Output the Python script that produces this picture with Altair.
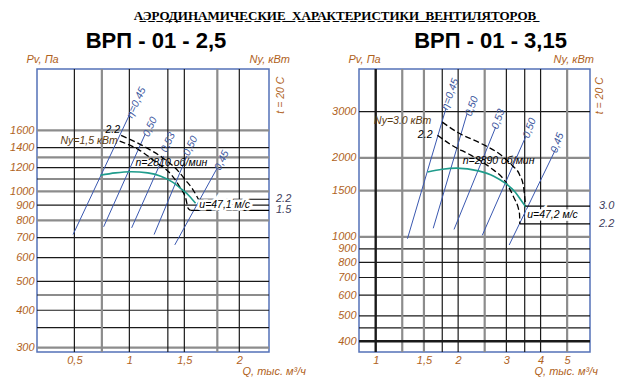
import altair as alt
import pandas as pd

# ---------------- style ----------------
NARROW = "Liberation Sans Narrow, Liberation Sans, Arial, sans-serif"
ORANGE = "#b0621c"
GRID_GRAY = "#8c8c8c"
GRID_BLACK = "#1a1a1a"
BLUE = "#3a58b0"
TEAL = "#1f9c8c"
FRAME = "#5472b8"
ETA_COL = "#4058a0"

MAIN_TITLE = "АЭРОДИНАМИЧЕСКИЕ  ХАРАКТЕРИСТИКИ  ВЕНТИЛЯТОРОВ"

# ---------------- ВРП-01-2,5 (left) ----------------
L_TITLE = "ВРП - 01 - 2,5"
L_XDOM = [0.16, 2.27]
L_YDOM = [290, 2568]
L_XTICKS = [0.5, 1, 1.5, 2]
L_YTICKS = [300, 400, 500, 600, 700, 800, 900, 1000, 1200, 1400, 1600]
L_GX_GRAY = [0.75, 1.8]
L_GX_BLACK = [0.5, 1, 1.35, 1.5, 2]
L_GX_THICK = []
L_GY_GRAY = [300, 800, 1000, 1300, 1600]
L_GY_BLACK = [350, 400, 450, 500, 600, 700, 900, 1100, 1200, 1400]
L_GY_THICK = []

L_FAN_Q = [0.736, 0.873, 1.016, 1.167, 1.286, 1.389, 1.468, 1.545, 1.602]
L_FAN_P = [1132, 1153, 1163, 1153, 1124, 1076, 1022, 965, 912]
L_NA_Q = [0.925, 1.140, 1.299, 1.431, 1.515, 1.572, 1.628]          # Ny = 2,2
L_NA_P = [1540, 1410, 1299, 1183, 1086, 1022, 941]
L_NB_Q = [0.912, 1.087, 1.246, 1.379, 1.458, 1.515, 1.534, 1.557]   # Ny = 1,5
L_NB_P = [1474, 1377, 1249, 1140, 1035, 941, 879, 864]

L_ETA = ["η=0,45", "0,50", "0,53", "0,50", "0,45"]
L_ETA_Q1 = [1.012, 1.145, 1.312, 1.523, 1.799]
L_ETA_P1 = [1841, 1558, 1314, 1314, 1197]
L_ETA_Q0 = [0.488, 0.766, 1.021, 1.225, 1.413]
L_ETA_P0 = [717, 761, 755, 717, 662]
L_ETA_LQ = [1.063, 1.19, 1.352, 1.557, 1.841]
L_ETA_LP = [1981, 1643, 1457, 1419, 1269]

L_NY_LAB = ["2.2", "1.5"]
L_NY_P = [941, 864]
L_NY_Q0 = [1.628, 1.557]
L_NY_TEXT = "Ny=1,5 кВт"
L_N_TEXT = "n=2810 об/мин"
L_N_Q, L_N_P = 1.056, 1243
L_U_TEXT = "u=47,1 м/с"
L_U_Q, L_U_P = 1.636, 900
L_T_P = 2100

# ---------------- ВРП-01-3,15 (right) ----------------
R_TITLE = "ВРП - 01 - 3,15"
R_XDOM = [0.869, 6.06]
R_YDOM = [364, 4363]
R_XTICKS = [1, 1.5, 2, 3, 4, 5]
R_YTICKS = [400, 500, 600, 700, 800, 900, 1000, 1500, 2000, 3000]
R_GX_GRAY = [1.25, 1.5, 2.5, 5]
R_GX_BLACK = [1.75, 2, 3, 3.5, 4]
R_GX_THICK = [1]
R_GY_GRAY = [1000, 1500, 2000]
R_GY_BLACK = [450, 500, 600, 700, 800, 900, 3000]
R_GY_THICK = [400]

R_FAN_Q = [1.546, 1.750, 1.972, 2.373, 2.698, 2.971, 3.234, 3.404, 3.536]
R_FAN_P = [1768, 1811, 1828, 1784, 1703, 1601, 1479, 1372, 1298]
R_NA_Q = [1.750, 1.995, 2.426, 2.859, 3.159, 3.349, 3.464, 3.525]   # Ny = 3,0
R_NA_P = [2737, 2498, 2270, 2054, 1866, 1729, 1557, 1309]
R_NB_Q = [1.681, 1.895, 2.225, 2.614, 2.971, 3.182, 3.349, 3.359]   # Ny = 2,2
R_NB_P = [2438, 2235, 2048, 1840, 1626, 1424, 1228, 1120]

R_ETA = ["η=0,45", "0,50", "0,53", "0,50", "0,45"]
R_ETA_Q1 = [1.803, 2.154, 2.743, 3.525, 4.551]
R_ETA_P1 = [3074, 2943, 2621, 2402, 2169]
R_ETA_Q0 = [1.306, 1.622, 1.932, 2.449, 3.072]
R_ETA_P0 = [984, 1078, 1067, 1013, 931]
R_ETA_LQ = [1.873, 2.245, 2.804, 3.647, 4.607]
R_ETA_LP = [3494, 3147, 2811, 2598, 2280]

R_NY_LAB = ["3.0", "2.2"]
R_NY_P = [1309, 1120]
R_NY_Q0 = [3.525, 3.359]
R_NY_TEXT = "Ny=3.0 кВт"
R_N_TEXT = "n=2890 об/мин"
R_N_Q, R_N_P = 2.079, 1954
R_U_TEXT = "u=47,2 м/с"
R_U_Q, R_U_P = 3.573, 1215
R_T_P = 3450


def panel(c):
    xs = alt.Scale(type=c["xtype"], domain=c["xdom"], nice=False, zero=False)
    ys = alt.Scale(type="log", domain=c["ydom"], nice=False)

    def X(f):
        return alt.X(f, type="quantitative", scale=xs, axis=None)

    def Y(f):
        return alt.Y(f, type="quantitative", scale=ys, axis=None)

    lab = dict(labelFont=NARROW, labelFontSize=11, labelFontStyle="italic",
               labelColor=ORANGE, ticks=False, domain=False, grid=False)
    ttl = dict(titleFont=NARROW, titleFontSize=11, titleFontStyle="italic",
               titleFontWeight="normal", titleColor=ORANGE, titleAngle=0,
               titleAlign="left", titleBaseline="alphabetic")

    axes = alt.Chart(pd.DataFrame({"q": c["xticks"][:1], "p": c["yticks"][:1]})).mark_point(opacity=0).encode(
        x=alt.X("q:Q", scale=xs, axis=alt.Axis(
            orient="bottom", values=c["xticks"], format="~g",
            labelExpr="replace(datum.label, '.', ',')",
            labelPadding=2, title="Q, тыс. м³/ч", titleX=c["qtx"], titleY=22, **lab, **ttl)),
        y=alt.Y("p:Q", scale=ys, axis=alt.Axis(
            orient="left", values=c["yticks"], format="d", labelPadding=3,
            title="Pv, Па", titleX=-11, titleY=-7, **lab, **ttl)),
    )
    raxis = alt.Chart(pd.DataFrame({"p": c["yticks"][:1]})).mark_point(opacity=0).encode(
        y=alt.Y("p:Q", scale=ys, axis=alt.Axis(
            orient="right", labels=False, ticks=False, domain=False, grid=False,
            title="Ny, кВт", titleX=c["nytx"], titleY=-7, **ttl)),
    )

    def hgrid(vals, col, w):
        return alt.Chart(pd.DataFrame({"p": vals})).mark_rule(color=col, strokeWidth=w).encode(y=Y("p"))

    def vgrid(vals, col, w):
        return alt.Chart(pd.DataFrame({"q": vals})).mark_rule(color=col, strokeWidth=w).encode(x=X("q"))

    eta = pd.DataFrame({"q0": c["eq0"], "p0": c["ep0"], "q1": c["eq1"], "p1": c["ep1"],
                        "lq": c["elq"], "lp": c["elp"], "t": c["eta"]})
    eta_lines = alt.Chart(eta).mark_rule(color=BLUE, strokeWidth=1).encode(
        x=X("q0"), y=Y("p0"), x2="q1", y2="p1")
    eta_text = alt.Chart(eta).mark_text(angle=c["eang"], font=NARROW, fontSize=10.5,
                                        fontStyle="italic", color=ETA_COL).encode(
        x=X("lq"), y=Y("lp"), text="t:N")

    fan = alt.Chart(pd.DataFrame({"q": c["fq"], "p": c["fp"]})).mark_line(
        color=TEAL, strokeWidth=1.6, interpolate="monotone").encode(x=X("q"), y=Y("p"))
    na = alt.Chart(pd.DataFrame({"q": c["naq"], "p": c["nap"]})).mark_line(
        color="black", strokeWidth=1.3, strokeDash=[6, 3], interpolate="monotone").encode(x=X("q"), y=Y("p"))
    nb = alt.Chart(pd.DataFrame({"q": c["nbq"], "p": c["nbp"]})).mark_line(
        color="black", strokeWidth=1.3, strokeDash=[6, 3], interpolate="monotone").encode(x=X("q"), y=Y("p"))

    ny = pd.DataFrame({"q0": c["nyq0"], "q1": [c["xdom"][1]] * 2, "p": c["nyp"], "t": c["nylab"]})
    ny_rules = alt.Chart(ny).mark_rule(color="black", strokeWidth=1.2).encode(x=X("q0"), x2="q1", y=Y("p"))
    ny_text = alt.Chart(ny).mark_text(align="left", dx=c["nydx"], font=NARROW, fontSize=11,
                                      fontStyle="italic", color="#3c3c5c").encode(
        x=X("q1"), y=Y("p"), text="t:N")

    def note(q, p, text, color="black", size=10.5, **kw):
        return alt.Chart(pd.DataFrame({"q": [q], "p": [p], "t": [text]})).mark_text(
            font=NARROW, fontSize=size, fontStyle="italic", color=color, **kw).encode(
            x=X("q"), y=Y("p"), text="t:N")

    is_right = c["nylab"][0] == "3.0"
    notes = [
        note(c["naq"][0], c["nap"][0], c["nytext"] if is_right else c["nylab"][0],
             color="#5a3a10" if is_right else "black", align="right", dx=c["adx"], dy=c["ady"]),
        note(c["nbq"][0], c["nbp"][0], c["nylab"][1] if is_right else c["nytext"],
             color="black" if is_right else "#5a3a10", align="right", dx=c["bdx"], dy=c["bdy"]),
        note(c["nq"], c["np"], c["ntext"], align="left"),
        note(c["uq"], c["up"], c["utext"], color="white", align="left", stroke="white", strokeWidth=5),
        note(c["uq"], c["up"], c["utext"], align="left"),
        note(c["xdom"][1], c["tp"], "t = 20 C", color=ORANGE, angle=270, dy=c["tdx"]),
    ]

    grids = [hgrid(c["gyk"], GRID_BLACK, 1.2), hgrid(c["gyg"], GRID_GRAY, 2.2),
             vgrid(c["gxk"], GRID_BLACK, 1.2), vgrid(c["gxg"], GRID_GRAY, 2.2)]
    if c["gyt"]:
        grids.append(hgrid(c["gyt"], GRID_BLACK, 2.4))
    if c["gxt"]:
        grids.append(vgrid(c["gxt"], GRID_BLACK, 2.4))

    layers = [axes, raxis] + grids + [eta_lines, eta_text, nb, na, fan, ny_rules, ny_text] + notes
    return alt.layer(*layers).resolve_axis(x="independent", y="independent").properties(
        width=c["w"], height=283,
        title=alt.Title(c["title"], font="Liberation Sans Narrow, Liberation Sans, Arial", fontSize=22,
                        fontWeight="bold", color="black",
                        anchor="middle", frame="group", offset=0, dx=c["tdxt"]))


left = panel(dict(
    xtype="linear", xdom=L_XDOM, ydom=L_YDOM, xticks=L_XTICKS, yticks=L_YTICKS,
    gxg=L_GX_GRAY, gxk=L_GX_BLACK, gxt=L_GX_THICK, gyg=L_GY_GRAY, gyk=L_GY_BLACK, gyt=L_GY_THICK,
    fq=L_FAN_Q, fp=L_FAN_P, naq=L_NA_Q, nap=L_NA_P, nbq=L_NB_Q, nbp=L_NB_P,
    eta=L_ETA, eq0=L_ETA_Q0, ep0=L_ETA_P0, eq1=L_ETA_Q1, ep1=L_ETA_P1, elq=L_ETA_LQ, elp=L_ETA_LP,
    eang=295, nylab=L_NY_LAB, nyp=L_NY_P, nyq0=L_NY_Q0, nytext=L_NY_TEXT, nydx=7,
    ntext=L_N_TEXT, nq=L_N_Q, np=L_N_P, utext=L_U_TEXT, uq=L_U_Q, up=L_U_P, tp=L_T_P, tdx=12,
    adx=-1, ady=-5, bdx=-2, bdy=0,
    qtx=205, nytx=-20, w=232, title=L_TITLE, tdxt=3))

right = panel(dict(
    xtype="log", xdom=R_XDOM, ydom=R_YDOM, xticks=R_XTICKS, yticks=R_YTICKS,
    gxg=R_GX_GRAY, gxk=R_GX_BLACK, gxt=R_GX_THICK, gyg=R_GY_GRAY, gyk=R_GY_BLACK, gyt=R_GY_THICK,
    fq=R_FAN_Q, fp=R_FAN_P, naq=R_NA_Q, nap=R_NA_P, nbq=R_NB_Q, nbp=R_NB_P,
    eta=R_ETA, eq0=R_ETA_Q0, ep0=R_ETA_P0, eq1=R_ETA_Q1, ep1=R_ETA_P1, elq=R_ETA_LQ, elp=R_ETA_LP,
    eang=290, nylab=R_NY_LAB, nyp=R_NY_P, nyq0=R_NY_Q0, nytext=R_NY_TEXT, nydx=9,
    ntext=R_N_TEXT, nq=R_N_Q, np=R_N_P, utext=R_U_TEXT, uq=R_U_Q, up=R_U_P, tp=R_T_P, tdx=10,
    adx=-11, ady=-1, bdx=-5, bdy=0,
    qtx=175, nytx=-37, w=231, title=R_TITLE, tdxt=16))

underlined = "".join(ch + "\u0332" for ch in MAIN_TITLE)

chart = alt.hconcat(left, right, spacing=90, bounds="flush").properties(
    padding={"top": 2, "left": 0, "right": 0, "bottom": 0},
    title=alt.Title(underlined, font="Liberation Serif, Times New Roman, serif", fontSize=13,
                    fontWeight="bold", color="black", anchor="middle", dx=23, offset=6),
).configure_view(stroke=FRAME, strokeWidth=1.5)

chart.save("out.html", embed_options={"renderer": "svg", "actions": False})
